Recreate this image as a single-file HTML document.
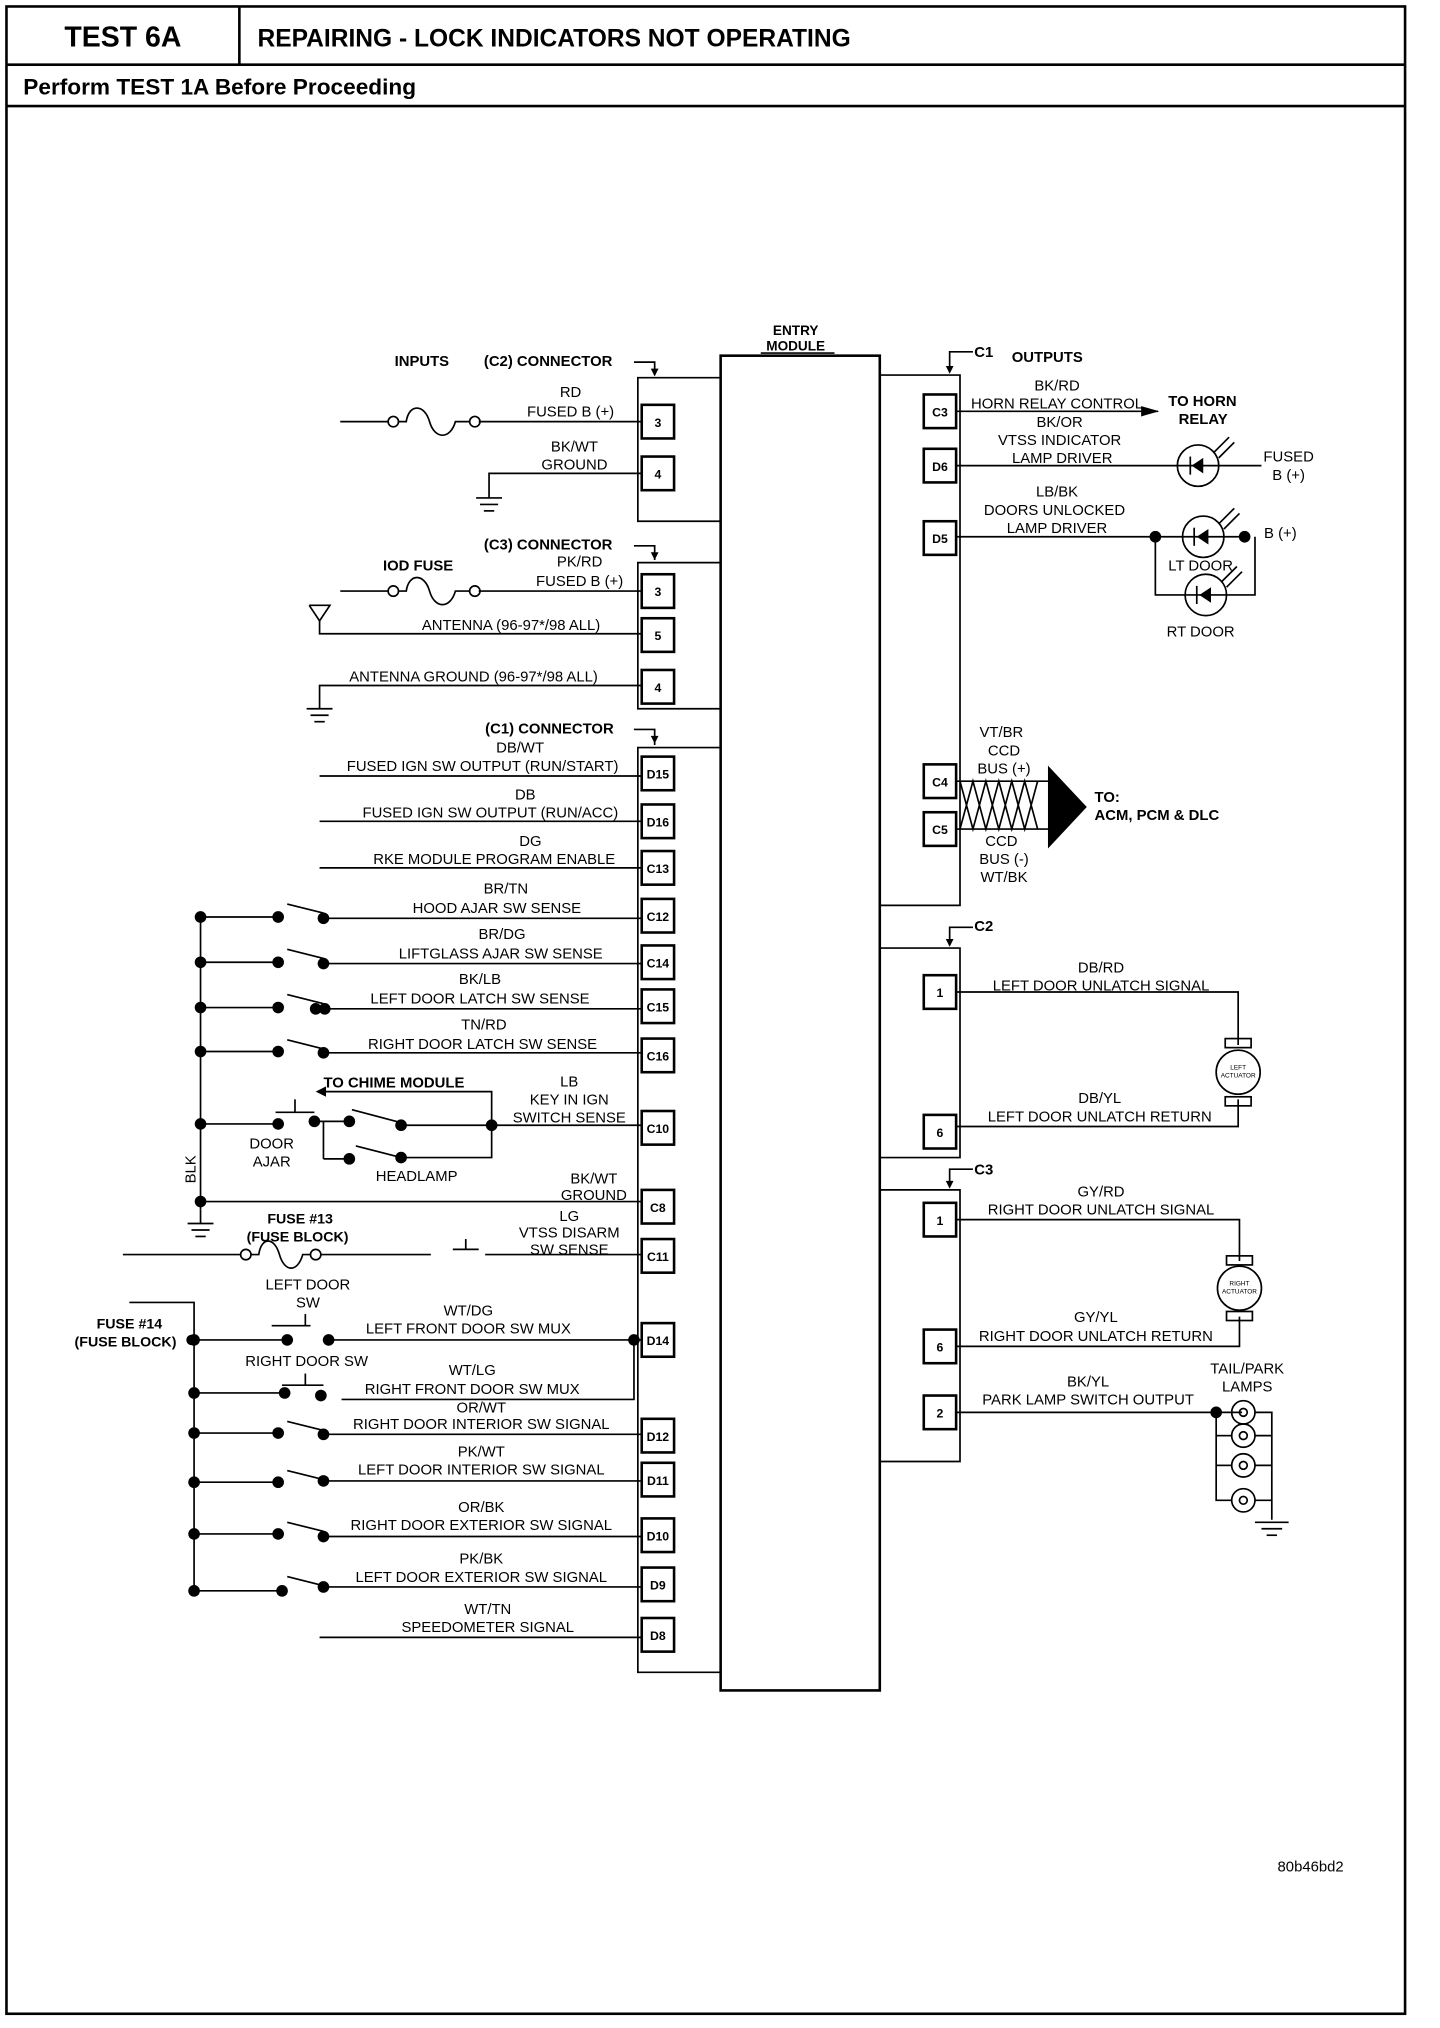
<!DOCTYPE html>
<html><head><meta charset="utf-8"><style>
html,body{margin:0;padding:0;background:#fff;}
svg{display:block;}
text{font-family:"Liberation Sans",Arial,sans-serif;fill:#000;}
.t{font-size:11.5px;}
.b{font-weight:bold;}
.p{font-size:9.5px;font-weight:bold;}
</style></head><body>
<svg width="1440" height="2028" viewBox="0 0 1113 1568" preserveAspectRatio="none" xmlns="http://www.w3.org/2000/svg">
<g fill="none" stroke="#000" stroke-width="1.3">
<!-- frame -->
<rect x="5" y="5" width="1081" height="1552" stroke-width="2"/>
<line x1="5" y1="50" x2="1086" y2="50" stroke-width="2"/>
<line x1="185" y1="5" x2="185" y2="50" stroke-width="2"/>
<line x1="5" y1="82" x2="1086" y2="82" stroke-width="2"/>
<!-- entry module -->
<rect x="557" y="275" width="123" height="1032" stroke-width="2"/>
<line x1="588" y1="273" x2="645" y2="273"/>
<!-- left housings -->
<polyline points="557,292 493,292 493,403 557,403"/>
<polyline points="557,435 493,435 493,548 557,548"/>
<polyline points="557,578 493,578 493,1293 557,1293"/>
<polyline points="490,280 506,280 506,290"/>
<polyline points="490,422 506,422 506,433"/>
<polyline points="490,564 506,564 506,576"/>
<!-- right housings -->
<polyline points="680,290 742,290 742,700 680,700"/>
<polyline points="680,733 742,733 742,895 680,895"/>
<polyline points="680,920 742,920 742,1130 680,1130"/>
<polyline points="752,272 734,272 734,288"/>
<polyline points="752,717 734,717 734,731"/>
<polyline points="752,904 734,904 734,918"/>
</g>
<g fill="#000" stroke="none">
<polygon points="503,285 509,285 506,291"/><polygon points="503,427 509,427 506,433"/><polygon points="503,569 509,569 506,575"/>
<polygon points="731,283 737,283 734,289"/><polygon points="731,726 737,726 734,732"/><polygon points="731,913 737,913 734,919"/>
</g>
<!-- header text -->
<text x="95" y="36" class="b" font-size="22" text-anchor="middle">TEST 6A</text>
<text x="199" y="36" class="b" font-size="19">REPAIRING - LOCK INDICATORS NOT OPERATING</text>
<text x="18" y="73" class="b" font-size="17.5">Perform TEST 1A Before Proceeding</text>
<text x="615" y="259" class="b" font-size="10.5" text-anchor="middle">ENTRY</text>
<text x="615" y="271" class="b" font-size="10.5" text-anchor="middle">MODULE</text>
<text x="305" y="283" class="b" font-size="11.5">INPUTS</text>
<text x="374" y="283" class="b" font-size="11.5">(C2) CONNECTOR</text>
<text x="374" y="425" class="b" font-size="11.5">(C3) CONNECTOR</text>
<text x="375" y="567" class="b" font-size="11.5">(C1) CONNECTOR</text>
<text x="296" y="441" class="b" font-size="11.5">IOD FUSE</text>
<text x="753" y="276" class="b" font-size="11.5">C1</text>
<text x="782" y="280" class="b" font-size="11.5">OUTPUTS</text>
<text x="753" y="720" class="b" font-size="11.5">C2</text>
<text x="753" y="908" class="b" font-size="11.5">C3</text>

<!-- left pins -->
<g fill="#fff" stroke="#000" stroke-width="2">
<rect x="496" y="313" width="25" height="26"/><rect x="496" y="353" width="25" height="26"/>
<rect x="496" y="444" width="25" height="26"/><rect x="496" y="478" width="25" height="26"/><rect x="496" y="518" width="25" height="26"/>
<rect x="496" y="585" width="25" height="26"/><rect x="496" y="622" width="25" height="26"/><rect x="496" y="658" width="25" height="26"/>
<rect x="496" y="695" width="25" height="26"/><rect x="496" y="731" width="25" height="26"/><rect x="496" y="765" width="25" height="26"/>
<rect x="496" y="803" width="25" height="26"/><rect x="496" y="859" width="25" height="26"/><rect x="496" y="920" width="25" height="26"/>
<rect x="496" y="958" width="25" height="26"/><rect x="496" y="1023" width="25" height="26"/><rect x="496" y="1097" width="25" height="26"/>
<rect x="496" y="1131" width="25" height="26"/><rect x="496" y="1174" width="25" height="26"/><rect x="496" y="1212" width="25" height="26"/>
<rect x="496" y="1251" width="25" height="26"/>
<!-- right pins -->
<rect x="714" y="305" width="25" height="26"/><rect x="714" y="347" width="25" height="26"/><rect x="714" y="403" width="25" height="26"/>
<rect x="714" y="591" width="25" height="26"/><rect x="714" y="628" width="25" height="26"/>
<rect x="714" y="754" width="25" height="26"/><rect x="714" y="862" width="25" height="26"/>
<rect x="714" y="930" width="25" height="26"/><rect x="714" y="1028" width="25" height="26"/><rect x="714" y="1079" width="25" height="26"/>
</g>
<g class="p" text-anchor="middle">
<text x="508.5" y="330" class="p">3</text><text x="508.5" y="370" class="p">4</text>
<text x="508.5" y="461" class="p">3</text><text x="508.5" y="495" class="p">5</text><text x="508.5" y="535" class="p">4</text>
<text x="508.5" y="602" class="p">D15</text><text x="508.5" y="639" class="p">D16</text><text x="508.5" y="675" class="p">C13</text>
<text x="508.5" y="712" class="p">C12</text><text x="508.5" y="748" class="p">C14</text><text x="508.5" y="782" class="p">C15</text>
<text x="508.5" y="820" class="p">C16</text><text x="508.5" y="876" class="p">C10</text><text x="508.5" y="937" class="p">C8</text>
<text x="508.5" y="975" class="p">C11</text><text x="508.5" y="1040" class="p">D14</text><text x="508.5" y="1114" class="p">D12</text>
<text x="508.5" y="1148" class="p">D11</text><text x="508.5" y="1191" class="p">D10</text><text x="508.5" y="1229" class="p">D9</text>
<text x="508.5" y="1268" class="p">D8</text>
<text x="726.5" y="322" class="p">C3</text><text x="726.5" y="364" class="p">D6</text><text x="726.5" y="420" class="p">D5</text>
<text x="726.5" y="608" class="p">C4</text><text x="726.5" y="645" class="p">C5</text>
<text x="726.5" y="771" class="p">1</text><text x="726.5" y="879" class="p">6</text>
<text x="726.5" y="947" class="p">1</text><text x="726.5" y="1045" class="p">6</text><text x="726.5" y="1096" class="p">2</text>
</g>

<!-- left wires -->
<g fill="none" stroke="#000" stroke-width="1.3">
<line x1="263" y1="326" x2="300" y2="326"/><line x1="370" y1="326" x2="496" y2="326"/>
<circle cx="304" cy="326" r="4"/><circle cx="367" cy="326" r="4"/>
<path d="M308,326 h6 c2,-14 14,-14 18,0 c4,14 16,14 20,0 h11"/>
<polyline points="378,385 378,366 496,366"/>
<line x1="368" y1="385" x2="388" y2="385"/><line x1="371" y1="390" x2="385" y2="390"/><line x1="374" y1="395" x2="382" y2="395"/>
<line x1="263" y1="457" x2="300" y2="457"/><line x1="370" y1="457" x2="496" y2="457"/>
<circle cx="304" cy="457" r="4"/><circle cx="367" cy="457" r="4"/>
<path d="M308,457 h6 c2,-14 14,-14 18,0 c4,14 16,14 20,0 h11"/>
<polyline points="247,480 247,490 496,490"/><polyline points="239,468 255,468 247,480 239,468"/>
<polyline points="247,548 247,530 496,530"/>
<line x1="237" y1="548" x2="257" y2="548"/><line x1="240" y1="553" x2="254" y2="553"/><line x1="243" y1="558" x2="251" y2="558"/>
<line x1="247" y1="600" x2="496" y2="600"/>
<line x1="247" y1="635" x2="496" y2="635"/>
<line x1="247" y1="671" x2="496" y2="671"/>
<!-- switch bus -->
<line x1="155" y1="709" x2="155" y2="935"/>
<line x1="155" y1="709" x2="215" y2="709"/><line x1="222" y1="699" x2="250" y2="706"/><line x1="250" y1="710" x2="496" y2="710"/>
<line x1="155" y1="744" x2="215" y2="744"/><line x1="222" y1="734" x2="250" y2="741"/><line x1="250" y1="745" x2="496" y2="745"/>
<line x1="155" y1="779" x2="215" y2="779"/><line x1="222" y1="769" x2="250" y2="776"/><line x1="250" y1="780" x2="496" y2="780"/>
<line x1="155" y1="813" x2="215" y2="813"/><line x1="222" y1="804" x2="250" y2="811"/><line x1="250" y1="814" x2="496" y2="814"/>
<line x1="155" y1="869" x2="213" y2="869"/>
<line x1="240" y1="867" x2="270" y2="867"/><line x1="250" y1="867" x2="250" y2="896" /><line x1="250" y1="896" x2="270" y2="896"/>
<line x1="272" y1="858" x2="310" y2="868"/><line x1="275" y1="886" x2="310" y2="895"/>
<line x1="310" y1="870" x2="496" y2="870"/><polyline points="310,895 380,895 380,844 250,844"/>
<line x1="213" y1="860" x2="243" y2="860"/><line x1="228" y1="860" x2="228" y2="850"/>
<line x1="155" y1="929" x2="496" y2="929"/>
<line x1="145" y1="946" x2="165" y2="946"/><line x1="148" y1="951" x2="162" y2="951"/><line x1="151" y1="956" x2="159" y2="956"/>
<line x1="155" y1="935" x2="155" y2="946"/>
<!-- fuse 13 -->
<line x1="95" y1="970" x2="186" y2="970"/><line x1="248" y1="970" x2="333" y2="970"/><line x1="375" y1="970" x2="496" y2="970"/>
<circle cx="190" cy="970" r="4"/><circle cx="244" cy="970" r="4"/>
<path d="M194,970 h6 c2,-14 12,-14 16,0 c4,14 14,14 18,0 h6"/>
<line x1="350" y1="966" x2="370" y2="966"/><line x1="360" y1="966" x2="360" y2="958"/>
<!-- door sw -->
<polyline points="100,1007 150,1007 150,1230"/>
<line x1="150" y1="1036" x2="222" y2="1036"/><line x1="254" y1="1036" x2="496" y2="1036"/>
<line x1="210" y1="1025" x2="240" y2="1025"/><line x1="236" y1="1025" x2="236" y2="1016"/>
<line x1="150" y1="1077" x2="220" y2="1077"/><polyline points="264,1082 490,1082 490,1036"/>
<line x1="218" y1="1071" x2="250" y2="1071"/><line x1="236" y1="1071" x2="236" y2="1062"/>
<line x1="150" y1="1108" x2="215" y2="1108"/><line x1="222" y1="1099" x2="250" y2="1106"/><line x1="250" y1="1109" x2="496" y2="1109"/>
<line x1="150" y1="1146" x2="215" y2="1146"/><line x1="222" y1="1137" x2="250" y2="1144"/><line x1="250" y1="1145" x2="496" y2="1145"/>
<line x1="150" y1="1186" x2="215" y2="1186"/><line x1="222" y1="1177" x2="250" y2="1184"/><line x1="250" y1="1188" x2="496" y2="1188"/>
<polyline points="150,1230 218,1230"/><line x1="222" y1="1219" x2="250" y2="1226"/><line x1="250" y1="1227" x2="496" y2="1227"/>
<line x1="247" y1="1266" x2="496" y2="1266"/>

<!-- right wires -->
<line x1="739" y1="318" x2="895" y2="318"/>
<line x1="739" y1="360" x2="975" y2="360"/>
<circle cx="926" cy="360" r="16"/><line x1="920" y1="353" x2="920" y2="367"/>
<line x1="739" y1="415" x2="960" y2="415"/>
<circle cx="930" cy="415" r="16"/><line x1="923" y1="408" x2="923" y2="422"/>
<polyline points="893,415 893,460 970,460 970,415"/>
<circle cx="932" cy="460" r="16"/><line x1="925" y1="453" x2="925" y2="467"/>
<line x1="938" y1="350" x2="950" y2="338"/><line x1="942" y1="354" x2="954" y2="342"/>
<line x1="942" y1="405" x2="954" y2="393"/><line x1="946" y1="409" x2="958" y2="397"/>
<line x1="944" y1="450" x2="956" y2="438"/><line x1="948" y1="454" x2="960" y2="442"/>
<!-- CCD bus -->
<line x1="739" y1="604" x2="810" y2="604"/><line x1="739" y1="641" x2="810" y2="641"/>
<path d="M742,604 L752,641 L762,604 L772,641 L782,604 L792,641 L802,604 M742,641 L752,604 L762,641 L772,604 L782,641 L792,604 L802,641"/>
<!-- C2 actuator -->
<polyline points="739,767 957,767 957,808"/>
<polyline points="739,871 957,871 957,850"/>
<circle cx="957" cy="829" r="17"/>
<rect x="947" y="803" width="20" height="7"/><rect x="947" y="848" width="20" height="7"/>
<polyline points="739,943 958,943 958,975"/>
<polyline points="739,1041 958,1041 958,1018"/>
<circle cx="958" cy="996" r="17"/>
<rect x="948" y="971" width="20" height="7"/><rect x="948" y="1014" width="20" height="7"/>
<!-- park lamps -->
<line x1="739" y1="1092" x2="960" y2="1092"/>
<polyline points="940,1092 940,1160 952,1160"/>
<line x1="940" y1="1110" x2="952" y2="1110"/><line x1="940" y1="1133" x2="952" y2="1133"/>
<polyline points="970,1092 983,1092 983,1175"/>
<line x1="970" y1="1110" x2="983" y2="1110"/><line x1="970" y1="1133" x2="983" y2="1133"/><line x1="970" y1="1160" x2="983" y2="1160"/>
<circle cx="961" cy="1092" r="9"/><circle cx="961" cy="1110" r="9"/><circle cx="961" cy="1133" r="9"/><circle cx="961" cy="1160" r="9"/>
<circle cx="961" cy="1092" r="3"/><circle cx="961" cy="1110" r="3"/><circle cx="961" cy="1133" r="3"/><circle cx="961" cy="1160" r="3"/>
<line x1="970" y1="1177" x2="996" y2="1177"/><line x1="975" y1="1182" x2="991" y2="1182"/><line x1="979" y1="1187" x2="987" y2="1187"/>
</g>
<g fill="#000">
<polygon points="882,314 896,318 882,322"/>
<polygon points="921,360 930,354 930,366"/><polygon points="925,415 934,409 934,421"/><polygon points="927,460 936,454 936,466"/>
<polygon points="810,592 840,624 810,656"/>
<circle cx="893" cy="415" r="4.5"/><circle cx="962" cy="415" r="4.5"/>
<circle cx="940" cy="1092" r="4.5"/>
<!-- switch dots -->
<circle cx="155" cy="709" r="4.5"/><circle cx="215" cy="709" r="4.5"/><circle cx="250" cy="710" r="4.5"/>
<circle cx="155" cy="744" r="4.5"/><circle cx="215" cy="744" r="4.5"/><circle cx="250" cy="745" r="4.5"/>
<circle cx="155" cy="779" r="4.5"/><circle cx="215" cy="779" r="4.5"/><circle cx="244" cy="780" r="4.5"/><circle cx="251" cy="780" r="4.5"/>
<circle cx="155" cy="813" r="4.5"/><circle cx="215" cy="813" r="4.5"/><circle cx="250" cy="814" r="4.5"/>
<circle cx="155" cy="869" r="4.5"/><circle cx="215" cy="869" r="4.5"/><circle cx="243" cy="867" r="4.5"/><circle cx="270" cy="867" r="4.5"/>
<circle cx="310" cy="870" r="4.5"/><circle cx="270" cy="896" r="4.5"/><circle cx="310" cy="895" r="4.5"/><circle cx="380" cy="870" r="4.5"/>
<circle cx="155" cy="929" r="4.5"/>
<polygon points="244,844 252,840 252,848"/>
<circle cx="150" cy="1036" r="4.5"/><circle cx="222" cy="1036" r="4.5"/><circle cx="254" cy="1036" r="4.5"/><circle cx="490" cy="1036" r="4.5"/>
<circle cx="150" cy="1077" r="4.5"/><circle cx="220" cy="1077" r="4.5"/><circle cx="248" cy="1079" r="4.5"/>
<circle cx="150" cy="1108" r="4.5"/><circle cx="215" cy="1108" r="4.5"/><circle cx="250" cy="1109" r="4.5"/>
<circle cx="150" cy="1146" r="4.5"/><circle cx="215" cy="1146" r="4.5"/><circle cx="250" cy="1145" r="4.5"/>
<circle cx="150" cy="1186" r="4.5"/><circle cx="215" cy="1186" r="4.5"/><circle cx="250" cy="1188" r="4.5"/>
<circle cx="150" cy="1230" r="4.5"/><circle cx="218" cy="1230" r="4.5"/><circle cx="250" cy="1227" r="4.5"/>
</g>

<!-- left labels -->
<g class="t" text-anchor="middle">
<text x="441" y="307" class="t">RD</text><text x="441" y="322" class="t">FUSED B (+)</text>
<text x="444" y="349" class="t">BK/WT</text><text x="444" y="363" class="t">GROUND</text>
<text x="448" y="438" class="t">PK/RD</text><text x="448" y="453" class="t">FUSED B (+)</text>
<text x="395" y="487" class="t">ANTENNA (96-97*/98 ALL)</text>
<text x="366" y="527" class="t">ANTENNA  GROUND (96-97*/98 ALL)</text>
<text x="402" y="582" class="t">DB/WT</text><text x="373" y="596" class="t">FUSED IGN SW OUTPUT (RUN/START)</text>
<text x="406" y="618" class="t">DB</text><text x="379" y="632" class="t">FUSED IGN SW OUTPUT (RUN/ACC)</text>
<text x="410" y="654" class="t">DG</text><text x="382" y="668" class="t">RKE MODULE PROGRAM ENABLE</text>
<text x="391" y="691" class="t">BR/TN</text><text x="384" y="706" class="t">HOOD AJAR SW SENSE</text>
<text x="388" y="726" class="t">BR/DG</text><text x="387" y="741" class="t">LIFTGLASS AJAR SW SENSE</text>
<text x="371" y="761" class="t">BK/LB</text><text x="371" y="776" class="t">LEFT DOOR LATCH SW SENSE</text>
<text x="374" y="796" class="t">TN/RD</text><text x="373" y="811" class="t">RIGHT DOOR LATCH SW SENSE</text>
<text x="440" y="840" class="t">LB</text><text x="440" y="854" class="t">KEY IN IGN</text><text x="440" y="868" class="t">SWITCH SENSE</text>
<text x="210" y="888" class="t">DOOR</text><text x="210" y="902" class="t">AJAR</text>
<text x="322" y="913" class="t">HEADLAMP</text>
<text x="459" y="915" class="t">BK/WT</text><text x="459" y="928" class="t">GROUND</text>
<text x="440" y="944" class="t">LG</text><text x="440" y="957" class="t">VTSS DISARM</text><text x="440" y="970" class="t">SW SENSE</text>
<text x="238" y="997" class="t">LEFT DOOR</text><text x="238" y="1011" class="t">SW</text>
<text x="362" y="1017" class="t">WT/DG</text><text x="362" y="1031" class="t">LEFT FRONT DOOR SW MUX</text>
<text x="237" y="1056" class="t">RIGHT DOOR SW</text>
<text x="365" y="1063" class="t">WT/LG</text><text x="365" y="1078" class="t">RIGHT FRONT DOOR SW MUX</text>
<text x="372" y="1092" class="t">OR/WT</text><text x="372" y="1105" class="t">RIGHT DOOR INTERIOR SW SIGNAL</text>
<text x="372" y="1126" class="t">PK/WT</text><text x="372" y="1140" class="t">LEFT DOOR INTERIOR SW SIGNAL</text>
<text x="372" y="1169" class="t">OR/BK</text><text x="372" y="1183" class="t">RIGHT DOOR EXTERIOR SW SIGNAL</text>
<text x="372" y="1209" class="t">PK/BK</text><text x="372" y="1223" class="t">LEFT DOOR EXTERIOR SW SIGNAL</text>
<text x="377" y="1248" class="t">WT/TN</text><text x="377" y="1262" class="t">SPEEDOMETER SIGNAL</text>
</g>
<text x="250" y="841" class="b" font-size="11.5">TO CHIME MODULE</text>
<text x="232" y="946" class="b" font-size="11" text-anchor="middle">FUSE #13</text>
<text x="230" y="960" class="b" font-size="11" text-anchor="middle">(FUSE BLOCK)</text>
<text x="100" y="1027" class="b" font-size="11" text-anchor="middle">FUSE #14</text>
<text x="97" y="1041" class="b" font-size="11" text-anchor="middle">(FUSE BLOCK)</text>
<circle cx="148" cy="1036" r="4" fill="#000"/>
<text x="0" y="0" class="t" transform="translate(151,915) rotate(-90)">BLK</text>

<!-- right labels -->
<g class="t" text-anchor="middle">
<text x="817" y="302" class="t">BK/RD</text><text x="817" y="316" class="t">HORN RELAY CONTROL</text>
<text x="819" y="330" class="t">BK/OR</text><text x="819" y="344" class="t">VTSS INDICATOR</text><text x="821" y="358" class="t">LAMP DRIVER</text>
<text x="817" y="384" class="t">LB/BK</text><text x="815" y="398" class="t">DOORS UNLOCKED</text><text x="817" y="412" class="t">LAMP DRIVER</text>
<text x="928" y="441" class="t">LT DOOR</text><text x="928" y="492" class="t">RT DOOR</text>
<text x="996" y="357" class="t">FUSED</text><text x="996" y="371" class="t">B (+)</text>
<text x="774" y="570" class="t">VT/BR</text><text x="776" y="584" class="t">CCD</text><text x="776" y="598" class="t">BUS (+)</text>
<text x="774" y="654" class="t">CCD</text><text x="776" y="668" class="t">BUS (-)</text><text x="776" y="682" class="t">WT/BK</text>
<text x="851" y="752" class="t">DB/RD</text><text x="851" y="766" class="t">LEFT DOOR UNLATCH SIGNAL</text>
<text x="850" y="853" class="t">DB/YL</text><text x="850" y="867" class="t">LEFT DOOR UNLATCH RETURN</text>
<text x="851" y="925" class="t">GY/RD</text><text x="851" y="939" class="t">RIGHT DOOR UNLATCH SIGNAL</text>
<text x="847" y="1022" class="t">GY/YL</text><text x="847" y="1037" class="t">RIGHT DOOR UNLATCH RETURN</text>
<text x="841" y="1072" class="t">BK/YL</text><text x="841" y="1086" class="t">PARK LAMP SWITCH OUTPUT</text>
<text x="964" y="1062" class="t">TAIL/PARK</text><text x="964" y="1076" class="t">LAMPS</text>
</g>
<text x="977" y="416" class="t">B (+)</text>
<text x="903" y="314" class="b" font-size="11.5">TO HORN</text>
<text x="911" y="328" class="b" font-size="11.5">RELAY</text>
<text x="846" y="620" class="b" font-size="11.5">TO:</text>
<text x="846" y="634" class="b" font-size="11.5">ACM, PCM &amp; DLC</text>
<text x="957" y="827" font-size="5" text-anchor="middle">LEFT</text><text x="957" y="833" font-size="5" text-anchor="middle">ACTUATOR</text>
<text x="958" y="994" font-size="5" text-anchor="middle">RIGHT</text><text x="958" y="1000" font-size="5" text-anchor="middle">ACTUATOR</text>
<text x="1013" y="1447" font-size="11.5" text-anchor="middle">80b46bd2</text>
</svg>
</body></html>
